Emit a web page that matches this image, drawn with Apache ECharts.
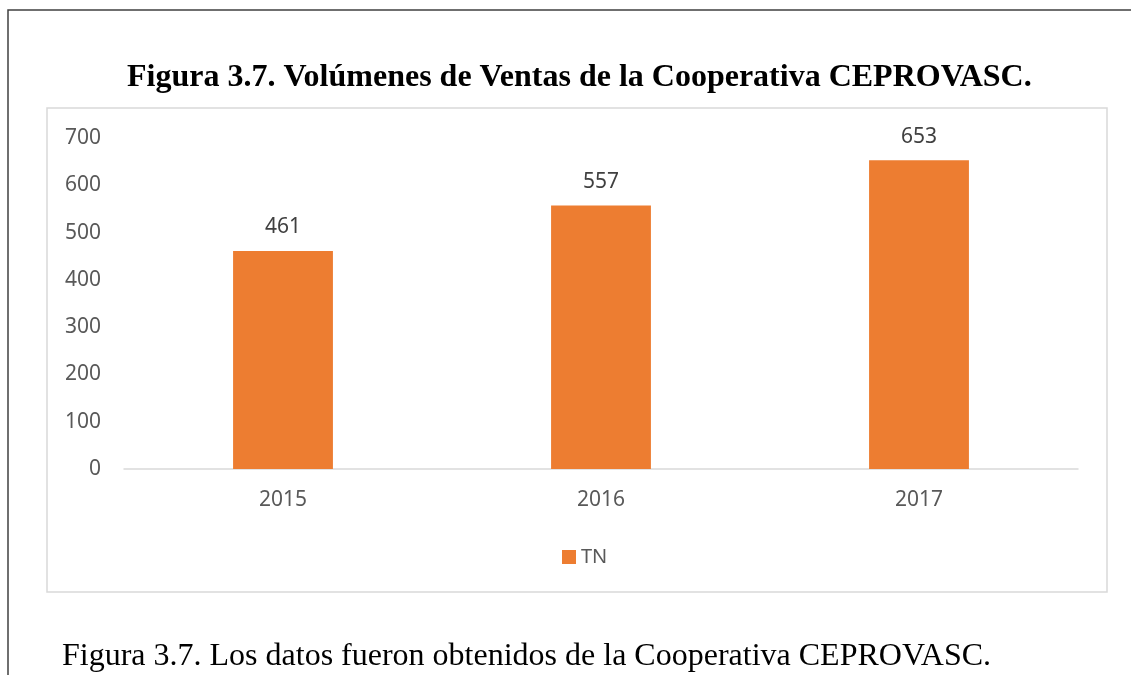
<!DOCTYPE html>
<html>
<head>
<meta charset="utf-8">
<script src="https://cdn.jsdelivr.net/npm/echarts@6/dist/echarts.min.js"></script>
<style>
  html, body { margin: 0; padding: 0; background: #fff; }
  #chart { width: 1131px; height: 675px; }
</style>
</head>
<body>
<div id="chart"></div>
<script>
  // data
  var years = ['2015', '2016', '2017'];
  var tn = [461, 557, 653];
  var yTicks = [0, 100, 200, 300, 400, 500, 600, 700];

  var chart = echarts.init(document.getElementById('chart'));

  chart.setOption({
    animation: false,
    backgroundColor: '#fff',
    title: [
      {
        text: 'Figura 3.7. Volúmenes de Ventas de la Cooperativa CEPROVASC.',
        left: 122,
        top: 57,
        textStyle: {
          fontFamily: 'Liberation Serif',
          fontWeight: 'bold',
          fontSize: 32,
          color: '#000'
        }
      },
      {
        text: 'Figura 3.7. Los datos fueron obtenidos de la Cooperativa CEPROVASC.',
        left: 57,
        top: 636,
        textStyle: {
          fontFamily: 'Liberation Serif',
          fontWeight: 'normal',
          fontSize: 32,
          color: '#000'
        }
      }
    ],
    graphic: [
      {
        type: 'rect',
        shape: { x: 8, y: 10, width: 1200, height: 720 },
        style: { fill: 'none', stroke: '#404040', lineWidth: 1.5 },
        silent: true
      },
      {
        type: 'rect',
        shape: { x: 47, y: 108, width: 1060, height: 484 },
        style: { fill: 'none', stroke: '#d9d9d9', lineWidth: 1.5 },
        silent: true
      }
    ],
    legend: {
      data: ['TN'],
      left: 557,
      top: 542,
      itemWidth: 14,
      itemHeight: 14,
      itemGap: 10,
      icon: 'rect',
      textStyle: { fontFamily: 'Noto Sans', fontSize: 20, color: '#595959' }
    },
    grid: { left: 124, right: 53, top: 138, bottom: 206 },
    xAxis: {
      type: 'category',
      data: years,
      axisLine: { lineStyle: { color: '#d9d9d9', width: 1.5 } },
      axisTick: { show: false },
      axisLabel: {
        margin: 21,
        fontFamily: 'Noto Sans',
        fontSize: 21,
        color: '#595959'
      }
    },
    yAxis: {
      type: 'value',
      min: yTicks[0],
      max: yTicks[yTicks.length - 1],
      interval: 100,
      axisLine: { show: false },
      axisTick: { show: false },
      splitLine: { show: false },
      axisLabel: {
        margin: 23,
        fontFamily: 'Noto Sans',
        fontSize: 21,
        color: '#595959'
      }
    },
    series: [
      {
        name: 'TN',
        type: 'bar',
        data: tn,
        barWidth: '31.4%',
        itemStyle: { color: '#ED7D31' },
        label: {
          show: true,
          position: 'top',
          distance: 13,
          fontFamily: 'Noto Sans',
          fontSize: 21,
          color: '#404040'
        }
      }
    ]
  });
</script>
</body>
</html>
